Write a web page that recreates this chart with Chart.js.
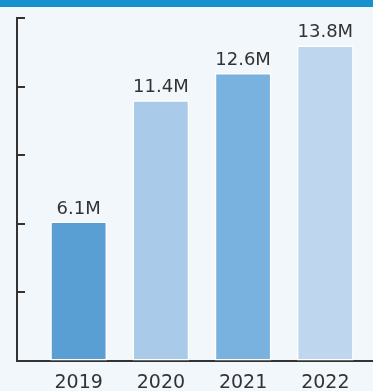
<!DOCTYPE html>
<html>
<head>
<meta charset="utf-8">
<script src="https://cdn.jsdelivr.net/npm/chart.js@4/dist/chart.umd.min.js"></script>
<style>
  html, body { margin: 0; padding: 0; background: #F2F7FC; }
  #wrap { position: relative; width: 373px; height: 391px; overflow: hidden; }
  #band { position: absolute; left: 0; top: 0; width: 373px; height: 7px; background: #1592CE; }
  canvas { position: absolute; left: 0; top: 0; }
</style>
</head>
<body>
<div id="wrap">
  <div id="band"></div>
  <canvas id="c" width="373" height="391"></canvas>
</div>
<script>
const categories = [2019, 2020, 2021, 2022];
const values = [6.1, 11.4, 12.6, 13.8];
const valueLabels = ['6.1M', '11.4M', '12.6M', '13.8M'];
const barColors = ['#5A9FD4', '#A9CBE9', '#7AB2DF', '#BFD7EE'];
const yTickValues = [0, 3, 6, 9, 12, 15];

const FONT = '"DejaVu Sans", sans-serif';
const INK = '#333333';

const innerTicks = {
  id: 'innerTicks',
  afterDraw(chart) {
    const y = chart.scales.y;
    const ctx = chart.ctx;
    ctx.save();
    ctx.strokeStyle = INK;
    ctx.lineWidth = 2;
    y.ticks.forEach((t) => {
      if (t.value === 0) return;
      const py = Math.round(y.getPixelForValue(t.value));
      ctx.beginPath();
      ctx.moveTo(chart.chartArea.left - 1, py);
      ctx.lineTo(chart.chartArea.left + 8, py);
      ctx.stroke();
    });
    ctx.restore();
  }
};

const barLabels = {
  id: 'barLabels',
  afterDatasetsDraw(chart) {
    const ctx = chart.ctx;
    const meta = chart.getDatasetMeta(0);
    ctx.save();
    ctx.font = '18px ' + FONT;
    ctx.fillStyle = INK;
    ctx.textAlign = 'center';
    ctx.textBaseline = 'alphabetic';
    meta.data.forEach((bar, i) => {
      ctx.fillText(valueLabels[i], bar.x, bar.y - 8);
    });
    ctx.restore();
  }
};

new Chart(document.getElementById('c'), {
  type: 'bar',
  data: {
    labels: categories,
    datasets: [{
      data: values,
      backgroundColor: barColors,
      borderColor: '#FFFFFF',
      borderWidth: 1.5,
      borderSkipped: false,
      categoryPercentage: 1,
      barPercentage: 0.69
    }]
  },
  options: {
    responsive: false,
    animation: false,
    devicePixelRatio: 1,
    layout: { padding: { left: 17, top: 18, right: 0, bottom: 0 } },
    plugins: { legend: { display: false }, tooltip: { enabled: false }, title: { display: false } },
    scales: {
      x: {
        type: 'linear',
        min: 2018.25,
        max: 2022.58,
        offset: false,
        afterBuildTicks(scale) { scale.ticks = categories.map(v => ({ value: v })); },
        afterFit(scale) { scale.height = 30; },
        ticks: {
          autoSkip: false,
          maxRotation: 0,
          padding: 11,
          color: INK,
          font: { family: FONT, size: 19 },
          callback: v => String(v)
        },
        grid: { display: true, drawOnChartArea: false, drawTicks: false },
        border: { display: true, color: INK, width: 2 }
      },
      y: {
        min: 0,
        max: 15,
        afterBuildTicks(scale) { scale.ticks = yTickValues.map(v => ({ value: v })); },
        ticks: { display: false },
        grid: { display: true, drawOnChartArea: false, drawTicks: false },
        border: { display: true, color: INK, width: 2 }
      }
    }
  },
  plugins: [innerTicks, barLabels]
});
</script>
</body>
</html>
